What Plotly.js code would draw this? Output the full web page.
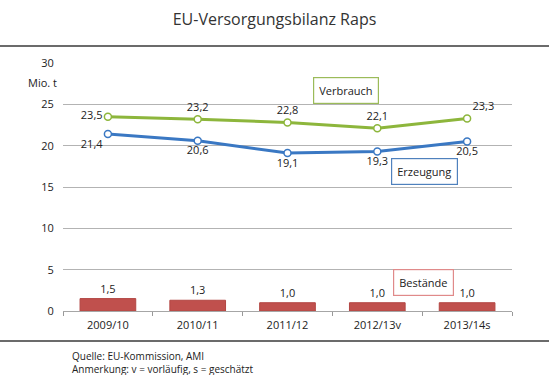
<!DOCTYPE html>
<html>
<head>
<meta charset="utf-8">
<script src="https://cdn.plot.ly/plotly-3.0.1.min.js"></script>
<style>html,body{margin:0;padding:0;background:#fff;}#chart{width:549px;height:375px;}</style>
</head>
<body>
<div id="chart"></div>
<script>
const categories = ["2009/10", "2010/11", "2011/12", "2012/13v", "2013/14s"];
const verbrauch = [23.5, 23.2, 22.8, 22.1, 23.3];
const erzeugung = [21.4, 20.6, 19.1, 19.3, 20.5];
const bestaende = [1.5, 1.3, 1.0, 1.0, 1.0];
const yTicks = [0, 5, 10, 15, 20, 25, 30];

const fmt = v => v.toFixed(1).replace('.', ',');
const FONT = '"Open Sans", "DejaVu Sans", sans-serif';

const traces = [
  {
    type: 'bar', x: categories, y: bestaende,
    marker: {color: '#c0504d', line: {color: '#b24643', width: 1}},
    text: bestaende.map(fmt), textposition: 'outside', cliponaxis: false,
    textfont: {family: FONT, size: 11, color: '#222'},
    hoverinfo: 'skip'
  },
  {
    type: 'scatter', mode: 'lines+markers+text', x: categories, y: verbrauch,
    line: {color: '#8db63c', width: 3},
    marker: {symbol: 'circle', size: 7, color: '#fff', line: {color: '#8db63c', width: 1.5}},
    text: verbrauch.map(fmt),
    textposition: ['middle left', 'top center', 'top center', 'top center', 'top right'],
    textfont: {family: FONT, size: 11, color: '#222'}, cliponaxis: false
  },
  {
    type: 'scatter', mode: 'lines+markers+text', x: categories, y: erzeugung,
    line: {color: '#3a78c3', width: 3},
    marker: {symbol: 'circle', size: 7, color: '#fff', line: {color: '#3a78c3', width: 1.5}},
    text: erzeugung.map(fmt),
    textposition: ['bottom left', 'bottom center', 'bottom center', 'bottom center', 'bottom center'],
    textfont: {family: FONT, size: 11, color: '#222'}, cliponaxis: false
  }
];

const boxFont = {family: FONT, size: 11, color: '#222'};
const layout = {
  width: 549, height: 375,
  margin: {l: 63, r: 37, t: 63, b: 64},
  paper_bgcolor: '#fff', plot_bgcolor: '#fff',
  showlegend: false,
  bargap: 0.38,
  font: {family: FONT, size: 11, color: '#222'},
  title: {text: 'EU-Versorgungsbilanz Raps', font: {family: FONT, size: 16, color: '#333'},
          x: 0.5, xref: 'container', y: 1 - 19/375, yref: 'container', yanchor: 'middle'},
  xaxis: {
    type: 'category', tickson: 'boundaries', ticks: 'outside', ticklen: 4, tickcolor: '#999',
    showline: true, linecolor: '#a6a6a6', linewidth: 1, showgrid: false, zeroline: false,
    ticklabelstandoff: 4, tickfont: {family: FONT, size: 11, color: '#222'}, fixedrange: true
  },
  yaxis: {
    range: [0, 30], tickvals: yTicks, ticktext: yTicks.map(String),
    ticks: 'outside', ticklen: 6, tickcolor: 'rgba(0,0,0,0)',
    showgrid: true, gridcolor: '#b3b3b3', gridwidth: 1, zeroline: false, showline: false,
    tickfont: {family: FONT, size: 11, color: '#222'}, fixedrange: true
  },
  shapes: [
    {type: 'line', xref: 'paper', yref: 'paper', x0: -63/449, x1: 486/449, y0: (311-46)/248, y1: (311-46)/248,
     line: {color: '#6b6b6b', width: 2}},
    {type: 'line', xref: 'paper', yref: 'paper', x0: -63/449, x1: 486/449, y0: (311-341)/248, y1: (311-341)/248,
     line: {color: '#6b6b6b', width: 2}}
  ],
  annotations: [
    {text: 'Mio. t', xref: 'paper', yref: 'y', x: -4/449, y: 27.7, xanchor: 'right', yanchor: 'middle',
     showarrow: false, font: {family: FONT, size: 11, color: '#222'}},
    {text: 'Verbrauch', xref: 'x', yref: 'y', x: 2.65, y: 26.65, showarrow: false, font: boxFont,
     bordercolor: '#9bbb59', borderwidth: 1.2, borderpad: 5, bgcolor: '#fff'},
    {text: 'Erzeugung', xref: 'x', yref: 'y', x: 3.53, y: 16.9, showarrow: false, font: boxFont,
     bordercolor: '#4f81bd', borderwidth: 1.2, borderpad: 5, bgcolor: '#fff'},
    {text: 'Bestände', xref: 'x', yref: 'y', x: 3.51, y: 3.42, showarrow: false, font: boxFont,
     bordercolor: '#e08a8a', borderwidth: 1.2, borderpad: 5, bgcolor: '#fff'},
    {text: 'Quelle: EU-Kommission, AMI<br>Anmerkung: v = vorläufig, s = geschätzt',
     xref: 'paper', yref: 'paper', x: 7/449, y: (311-347)/248, xanchor: 'left', yanchor: 'top', align: 'left',
     showarrow: false, font: {family: FONT, size: 10, color: '#222'}}
  ]
};

Plotly.newPlot('chart', traces, layout, {displayModeBar: false, staticPlot: true});
</script>
</body>
</html>
